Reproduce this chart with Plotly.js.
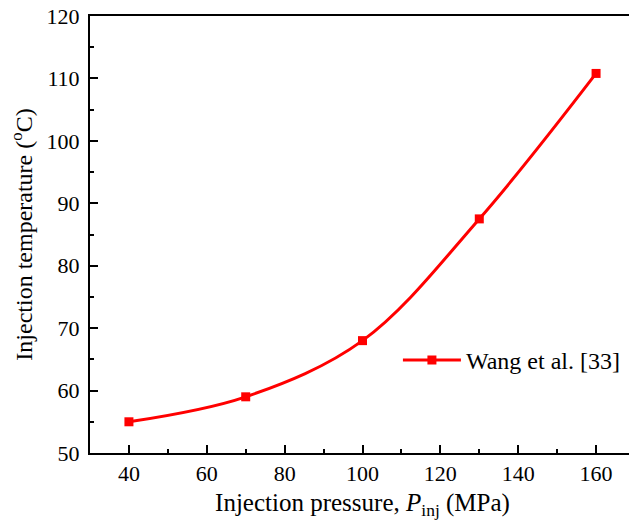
<!DOCTYPE html>
<html><head><meta charset="utf-8">
<script src="https://cdn.plot.ly/plotly-3.0.1.min.js"></script>
<style>html,body{margin:0;padding:0;overflow:hidden;background:#fff}</style>
</head><body>
<div id="chart" style="width:640px;height:524px"></div>
<script>
const pressure = [40, 70, 100, 130, 160];
const temperature = [55, 59, 68, 87.5, 110.8];
const seriesName = "Wang et al. [33]";
const xTitle = "Injection pressure, <i>P</i><sub>inj</sub> (MPa)";
const yTitle = "Injection temperature (<sup>o</sup>C)";

const trace = {
  x: pressure, y: temperature, name: seriesName,
  type: "scatter", mode: "lines+markers",
  line: {color: "#ff0000", width: 3, shape: "spline", smoothing: 1},
  marker: {symbol: "square", size: 9, color: "#ff0000"}
};

function axisBase() {
  return {
    showgrid: false, zeroline: false, showline: true, linecolor: "#000", linewidth: 2,
    mirror: true, ticks: "inside", ticklen: 8, tickwidth: 2, tickcolor: "#000",
    tickfont: {size: 22, color: "#000"}
  };
}

const layout = {
  width: 640, height: 524,
  margin: {l: 90, r: 5, t: 16, b: 71},
  paper_bgcolor: "#fff", plot_bgcolor: "#fff",
  font: {family: "Liberation Serif", color: "#000", size: 22},
  showlegend: true,
  legend: {x: 0.565, y: 0.212, xanchor: "left", yanchor: "middle", bgcolor: "rgba(0,0,0,0)",
           font: {size: 24, color: "#000"}, itemwidth: 58},
  xaxis: Object.assign(axisBase(), {
    range: [30, 170], tickmode: "linear", tick0: 40, dtick: 20,
    minor: {ticks: "inside", ticklen: 4, tickwidth: 2, tickcolor: "#000", dtick: 10, tick0: 30},
    title: {text: xTitle, font: {size: 25, color: "#000"}, standoff: 8}
  }),
  yaxis: Object.assign(axisBase(), {
    range: [50, 120], tickmode: "linear", tick0: 50, dtick: 10, ticklabelstandoff: 4,
    minor: {ticks: "inside", ticklen: 4, tickwidth: 2, tickcolor: "#000", dtick: 5, tick0: 50},
    title: {text: yTitle, font: {size: 24, color: "#000"}, standoff: 7}
  })
};

Plotly.newPlot("chart", [trace], layout, {displayModeBar: false});
</script>
</body></html>
